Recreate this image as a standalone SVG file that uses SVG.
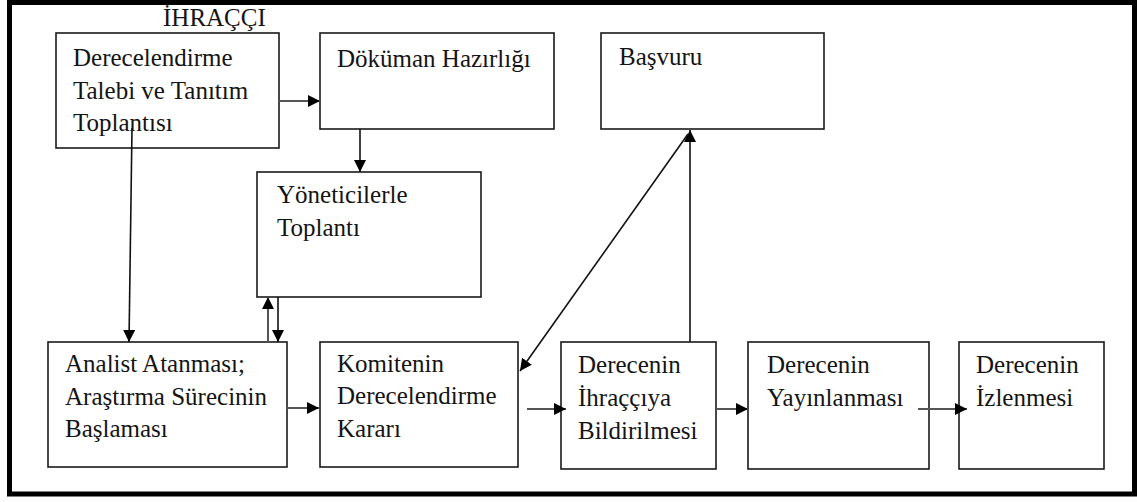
<svg xmlns="http://www.w3.org/2000/svg" width="1137" height="502" viewBox="0 0 1137 502">
<style>
.box{fill:#fff;stroke:#1a1a1a;stroke-width:1.6}
.t{font-family:'Liberation Serif','DejaVu Serif',Times,serif;font-size:25px;fill:#141414}
.c{fill:none;stroke:#111;stroke-width:1.6}
.g{fill:none;stroke:#555;stroke-width:2}
</style>
<defs>
<marker id="ah" markerUnits="userSpaceOnUse" markerWidth="13" markerHeight="12" refX="12" refY="6" orient="auto-start-reverse" viewBox="0 0 13 12">
<path d="M0,0 L12,6 L0,12 z" fill="#000"/>
</marker>
</defs>
<rect x="0" y="0" width="1137" height="502" fill="#fff"/>
<rect id="frame" x="9.5" y="2.5" width="1125" height="491.5" fill="none" stroke="#000" stroke-width="5"/>
<text class="t" font-family="Liberation Serif" x="163" y="26">İHRAÇÇI</text>

<g id="n1"><rect class="box" x="56" y="33" width="223" height="115"/>
<text class="t" x="73" y="66">Derecelendirme</text><text class="t" x="73" y="99">Talebi ve Tanıtım</text><text class="t" x="73" y="131">Toplantısı</text></g>
<g id="n2"><rect class="box" x="320" y="33" width="234" height="96"/>
<text class="t" x="337" y="67">Döküman Hazırlığı</text></g>
<g id="n3"><rect class="box" x="601" y="33" width="223" height="96"/>
<text class="t" x="619" y="65">Başvuru</text></g>
<g id="n4"><rect class="box" x="257" y="172" width="224" height="125"/>
<text class="t" x="277" y="203">Yöneticilerle</text><text class="t" x="277" y="236">Toplantı</text></g>
<g id="n5"><rect class="box" x="48" y="342" width="239" height="125"/>
<text class="t" x="65" y="372">Analist Atanması;</text><text class="t" x="65" y="405">Araştırma Sürecinin</text><text class="t" x="65" y="437">Başlaması</text></g>
<g id="n6"><rect class="box" x="320" y="342" width="198" height="125"/>
<text class="t" x="337" y="372">Komitenin</text><text class="t" x="337" y="404">Derecelendirme</text><text class="t" x="337" y="437">Kararı</text></g>
<g id="n7"><rect class="box" x="561" y="342" width="155" height="127"/>
<text class="t" x="578" y="373">Derecenin</text><text class="t" x="578" y="406">İhraççıya</text><text class="t" x="578" y="439">Bildirilmesi</text></g>
<g id="n8"><rect class="box" x="748" y="342" width="181" height="127"/>
<text class="t" x="767" y="373">Derecenin</text><text class="t" x="767" y="406">Yayınlanması</text></g>
<g id="n9"><rect class="box" x="959" y="342" width="145" height="127"/>
<text class="t" x="976" y="373">Derecenin</text><text class="t" x="976" y="406">İzlenmesi</text></g>

<g id="connectors">
<line class="g" x1="279" y1="101" x2="320" y2="101" marker-end="url(#ah)"/>
<line class="c" x1="360" y1="129" x2="360" y2="172" marker-end="url(#ah)"/>
<line class="c" x1="132" y1="128" x2="129" y2="342" marker-end="url(#ah)"/>
<line class="g" x1="268" y1="342" x2="268" y2="297" marker-end="url(#ah)"/>
<line class="c" x1="278" y1="297" x2="278" y2="342" marker-end="url(#ah)"/>
<line class="g" x1="287" y1="408" x2="319" y2="408" marker-end="url(#ah)"/>
<line class="g" x1="527" y1="409" x2="566" y2="409" marker-end="url(#ah)"/>
<line class="g" x1="716" y1="409" x2="748" y2="409" marker-end="url(#ah)"/>
<line class="g" x1="918" y1="409" x2="967" y2="409" marker-end="url(#ah)"/>
<line class="c" x1="690" y1="342" x2="690" y2="130" marker-end="url(#ah)"/>
<line class="c" x1="520" y1="371" x2="688" y2="134" marker-start="url(#ah)"/>
</g>
</svg>
